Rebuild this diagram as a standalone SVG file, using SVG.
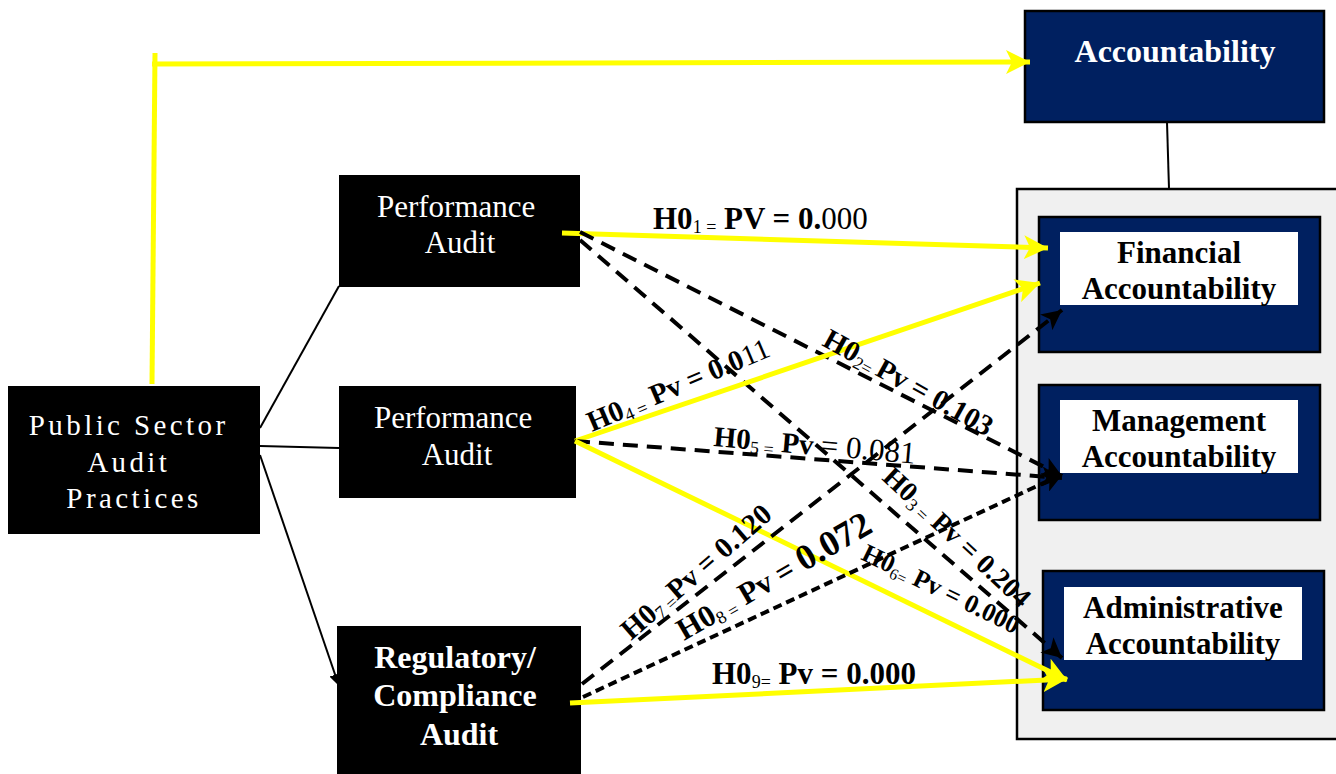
<svg xmlns="http://www.w3.org/2000/svg" width="1336" height="774" viewBox="0 0 1336 774">
  <style>
    .blk { fill: #000; }
    .navy { fill: #002060; stroke: #000; stroke-width: 2.5; }
    .inner { fill: #fff; }
    .wt { fill: #fff; font-family: "Liberation Serif", "DejaVu Serif", serif; text-anchor: middle; }
    .bt { fill: #000; font-family: "Liberation Serif", "DejaVu Serif", serif; font-weight: bold; text-anchor: middle; font-size: 31px; }
    .lbl { fill: #000; font-family: "Liberation Serif", "DejaVu Serif", serif; font-weight: bold; font-size: 31px; }
    .rot { font-size: 29px; }
    .sub { font-size: 18px; font-weight: normal; }
    .nw { font-weight: normal; }
    .y { fill: none; stroke: #ffff00; stroke-width: 5; }
    .thin { fill: none; stroke: #000; stroke-width: 2; }
    .dash { fill: none; stroke: #000; stroke-width: 4; stroke-dasharray: 15 9; }
    .dash2 { fill: none; stroke: #000; stroke-width: 4; stroke-dasharray: 9 5; }
  </style>
  <defs>
    <marker id="ay" markerUnits="userSpaceOnUse" markerWidth="26" markerHeight="24" refX="24" refY="12" orient="auto">
      <path d="M0,0 L24,12 L0,24 L6,12 Z" fill="#ffff00"/>
    </marker>
    <marker id="ab" markerUnits="userSpaceOnUse" markerWidth="22" markerHeight="20" refX="20" refY="10" orient="auto">
      <path d="M0,0 L20,10 L0,20 L5,10 Z" fill="#000"/>
    </marker>
    <marker id="at" markerUnits="userSpaceOnUse" markerWidth="14" markerHeight="14" refX="12" refY="7" orient="auto">
      <path d="M0,1 L12,7 L0,13 Z" fill="#000"/>
    </marker>
  </defs>

  <rect width="1336" height="774" fill="#fff"/>

  <!-- right-hand container for the three accountability types -->
  <g id="container">
    <rect x="1017" y="189" width="325" height="550" fill="#f0f0f0" stroke="#000" stroke-width="2.5"/>
  </g>

  <g id="psap">
    <rect class="blk" x="8" y="386" width="252" height="148"/>
    <text class="wt" font-size="29" letter-spacing="3.4">
      <tspan x="134" y="435">Public Sector</tspan>
      <tspan x="134" y="472">Audit</tspan>
      <tspan x="134" y="508">Practices</tspan>
    </text>
  </g>

  <g id="performance-audit-1">
    <rect class="blk" x="339" y="175" width="241" height="112"/>
    <text class="wt" font-size="31">
      <tspan x="460" y="217">Performance</tspan>
      <tspan x="460" y="253">Audit</tspan>
    </text>
  </g>

  <g id="performance-audit-2">
    <rect class="blk" x="339" y="386" width="237" height="112"/>
    <text class="wt" font-size="31">
      <tspan x="457" y="428">Performance</tspan>
      <tspan x="457" y="465">Audit</tspan>
    </text>
  </g>

  <g id="regulatory-audit">
    <rect class="blk" x="337" y="626" width="244" height="148"/>
    <text class="wt" font-size="32" font-weight="bold">
      <tspan x="459" y="668">Regulatory/</tspan>
      <tspan x="459" y="706">Compliance</tspan>
      <tspan x="459" y="745">Audit</tspan>
    </text>
  </g>

  <g id="accountability">
    <rect class="navy" x="1025" y="11" width="299" height="111"/>
    <text class="wt" font-size="32" font-weight="bold" x="1175" y="62">Accountability</text>
  </g>

  <g id="financial">
    <rect class="navy" x="1039" y="217" width="281" height="135"/>
    <rect class="inner" x="1060" y="232" width="238" height="73"/>
    <text class="bt"><tspan x="1179" y="263">Financial</tspan><tspan x="1179" y="299">Accountability</tspan></text>
  </g>

  <g id="management">
    <rect class="navy" x="1039" y="385" width="281" height="135"/>
    <rect class="inner" x="1060" y="400" width="238" height="73"/>
    <text class="bt"><tspan x="1179" y="431">Management</tspan><tspan x="1179" y="467">Accountability</tspan></text>
  </g>

  <g id="administrative">
    <rect class="navy" x="1043" y="571" width="281" height="139"/>
    <rect class="inner" x="1064" y="587" width="238" height="73"/>
    <text class="bt"><tspan x="1183" y="618">Administrative</tspan><tspan x="1183" y="654">Accountability</tspan></text>
  </g>

  <g id="connectors">
    <!-- structural links -->
    <line class="thin" x1="1167" y1="122" x2="1169" y2="189"/>
    <line class="thin" x1="260" y1="428" x2="339" y2="286"/>
    <line class="thin" x1="260" y1="446" x2="339" y2="448"/>
    <line class="thin" x1="260" y1="455" x2="339" y2="686" marker-end="url(#at)"/>
    <!-- overall path to Accountability -->
    <polyline class="y" points="152,384 155,53"/>
    <line class="y" x1="152" y1="64" x2="1030" y2="62" marker-end="url(#ay)"/>
    <!-- Performance Audit (top) -->
    <line class="y" x1="562" y1="233" x2="1048" y2="248" marker-end="url(#ay)"/>
    <line class="dash" x1="580" y1="232" x2="1062" y2="476" marker-end="url(#ab)"/>
    <line class="dash" x1="580" y1="240" x2="1062" y2="658" marker-end="url(#ab)"/>
    <!-- Performance Audit (middle) -->
    <line class="y" x1="575" y1="441" x2="1040" y2="283" marker-end="url(#ay)"/>
    <line class="dash" x1="575" y1="441" x2="1062" y2="478" marker-end="url(#ab)"/>
    <line class="y" x1="575" y1="441" x2="1067" y2="680" marker-end="url(#ay)"/>
    <!-- Regulatory / Compliance Audit -->
    <line class="dash" x1="582" y1="684" x2="1062" y2="310" marker-end="url(#ab)"/>
    <line class="dash2" x1="583" y1="697" x2="1063" y2="474" marker-end="url(#ab)"/>
    <line class="y" x1="570" y1="703" x2="1067" y2="679" marker-end="url(#ay)"/>
  </g>

  <!-- hypothesis labels -->
  <g id="labels">
    <text class="lbl" x="653" y="229">H0<tspan class="sub" dy="4">1 =</tspan><tspan dy="-4"> PV = 0.</tspan><tspan class="nw">000</tspan></text>
    <text class="lbl rot" transform="translate(821,345) rotate(29)">H0<tspan class="sub" dy="4">2= </tspan><tspan dy="-4">Pv = 0.103</tspan></text>
    <text class="lbl" style="font-size:28px" transform="translate(881,479) rotate(43)">H0<tspan class="sub" dy="4">3 =</tspan><tspan dy="-4"> Pv = 0.204</tspan></text>
    <text class="lbl rot" transform="translate(592,432) rotate(-23)">H0<tspan class="sub" dy="4">4 =</tspan><tspan dy="-4"> Pv = 0.0</tspan><tspan class="nw">11</tspan></text>
    <text class="lbl rot" transform="translate(713,446) rotate(5)">H0<tspan class="sub" dy="4">5 =</tspan><tspan dy="-4"> Pv </tspan><tspan class="nw" style="font-size:31px">= 0.081</tspan></text>
    <text class="lbl" style="font-size:26px" transform="translate(860,559) rotate(26)">H0<tspan class="sub" style="font-size:16px" dy="4">6=</tspan><tspan dy="-4"> Pv = 0.000</tspan></text>
    <text class="lbl rot" transform="translate(631,641) rotate(-41)">H0<tspan class="sub" dy="4">7 =</tspan><tspan dy="-4">Pv = 0.120</tspan></text>
    <text class="lbl" transform="translate(684,641) rotate(-30)">H0<tspan class="sub" dy="4">8 =</tspan><tspan dy="-4"> Pv = </tspan><tspan style="font-size:36px">0.072</tspan></text>
    <text class="lbl" x="712" y="684">H0<tspan class="sub" dy="4">9=</tspan><tspan dy="-4"> Pv = 0.000</tspan></text>
  </g>
</svg>
